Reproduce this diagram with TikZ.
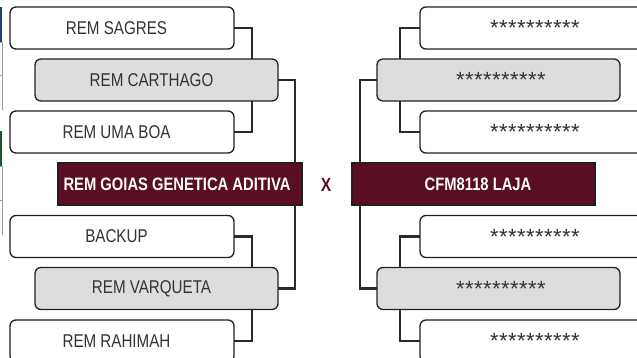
\documentclass[tikz,border=0pt]{standalone}
\usepackage{fontspec}
\setmainfont[FakeStretch=0.82]{Liberation Sans}
\newfontfamily\starfont{Liberation Sans}
\definecolor{maroon}{HTML}{5A0E22}
\definecolor{boxgray}{HTML}{DCDDDF}
\definecolor{edge}{HTML}{231F20}
\definecolor{txt}{HTML}{333333}
\definecolor{linec}{HTML}{2A2A2A}
\definecolor{fragblue}{HTML}{1F3F77}
\definecolor{fraggreen}{HTML}{1E5631}
\definecolor{fraggray}{HTML}{9A9A9A}
\newcommand\onestar{\makebox[9pt]{*}}
\newcommand\starrow{{\starfont\fontsize{22}{22}\selectfont\onestar\onestar\onestar\onestar\onestar\onestar\onestar\onestar\onestar\onestar}}
\newcommand\sh[2]{\hspace*{#1}#2}
\begin{document}
\begin{tikzpicture}[x=1pt,y=-1pt,
  every node/.style={inner sep=0pt,outer sep=0pt},
  wbox/.style={draw=edge,line width=1.3pt,fill=white,rounded corners=6pt,
    minimum width=224pt,minimum height=42pt,text=txt,
    font=\fontsize{18.5}{18.5}\selectfont},
  gbox/.style={wbox,fill=boxgray,minimum width=243pt},
  mbox/.style={draw=edge,line width=1.3pt,fill=maroon,minimum width=244pt,
    minimum height=42pt,text=white,font=\fontsize{18}{18}\selectfont\bfseries},
  conn/.style={draw=linec,line width=2.2pt},
  frag/.style={draw=fraggray,line width=0.8pt}]
\useasboundingbox (0,0) rectangle (637,358);
\clip (0,0) rectangle (637,358);
% fragments at the left edge
\fill[fragblue] (0,7) rectangle (2,42);
\draw[frag] (2.5,42) -- (2.5,110);
\draw[frag] (0,42) -- (3,42);
\draw[frag] (0,75) -- (3,75);
\fill[fraggreen] (0,131) rectangle (2,166);
\draw[frag] (2.5,166) -- (2.5,235);
\draw[frag] (0,166) -- (3,166);
\draw[frag] (0,200) -- (3,200);
% coordinates for vertical connector runs
\coordinate (la) at (252,0);
\coordinate (lb) at (295,0);
\coordinate (ra) at (400,0);
\coordinate (rb) at (360,0);
% left nodes
\node[wbox] (s1) at (122,28) {\sh{-11pt}{REM SAGRES}};
\node[gbox] (g1) at (156.5,80) {\sh{-10pt}{REM CARTHAGO}};
\node[wbox] (u1) at (122,132) {\sh{-11pt}{REM UMA BOA}};
\node[mbox] (m1) at (180,184) {\sh{-6pt}{REM GOIAS GENETICA ADITIVA}};
\node[wbox] (b1) at (122,236.5) {\sh{-11pt}{BACKUP}};
\node[gbox] (g2) at (156.5,288.5) {\sh{-10pt}{REM VARQUETA}};
\node[wbox] (h1) at (122,341) {\sh{-11pt}{REM RAHIMAH}};
% right nodes
\node[wbox,minimum width=225pt] (r1) at (532.5,28) {\sh{5pt}{\starrow}};
\node[gbox] (rg1) at (498.5,80) {\sh{5pt}{\starrow}};
\node[wbox,minimum width=225pt] (r3) at (532.5,132) {\sh{5pt}{\starrow}};
\node[mbox,minimum width=243pt] (m2) at (473.5,184) {\sh{9pt}{CFM8118 LAJA}};
\node[wbox,minimum width=225pt] (r4) at (532.5,236.5) {\sh{5pt}{\starrow}};
\node[gbox] (rg2) at (498.5,288.5) {\sh{5pt}{\starrow}};
\node[wbox,minimum width=225pt] (r6) at (532.5,341) {\sh{5pt}{\starrow}};
% versus mark
\node[text=maroon,font=\fontsize{19}{19}\selectfont\bfseries] (vs) at (326,185) {X};
% connectors
\draw[conn] (s1.east) -| (la |- g1.north);
\draw[conn] (la |- g1.south) |- (u1.east);
\draw[conn] (b1.east) -| (la |- g2.north);
\draw[conn] (la |- g2.south) |- (h1.east);
\draw[conn] (g1.east) -| (lb |- m1.north);
\draw[conn] (lb |- m1.south) |- (g2.east);
\draw[conn] (r1.west) -| (ra |- rg1.north);
\draw[conn] (ra |- rg1.south) |- (r3.west);
\draw[conn] (r4.west) -| (ra |- rg2.north);
\draw[conn] (ra |- rg2.south) |- (r6.west);
\draw[conn] (rg1.west) -| (rb |- m2.north);
\draw[conn] (rb |- m2.south) |- (rg2.west);
\end{tikzpicture}
\end{document}
